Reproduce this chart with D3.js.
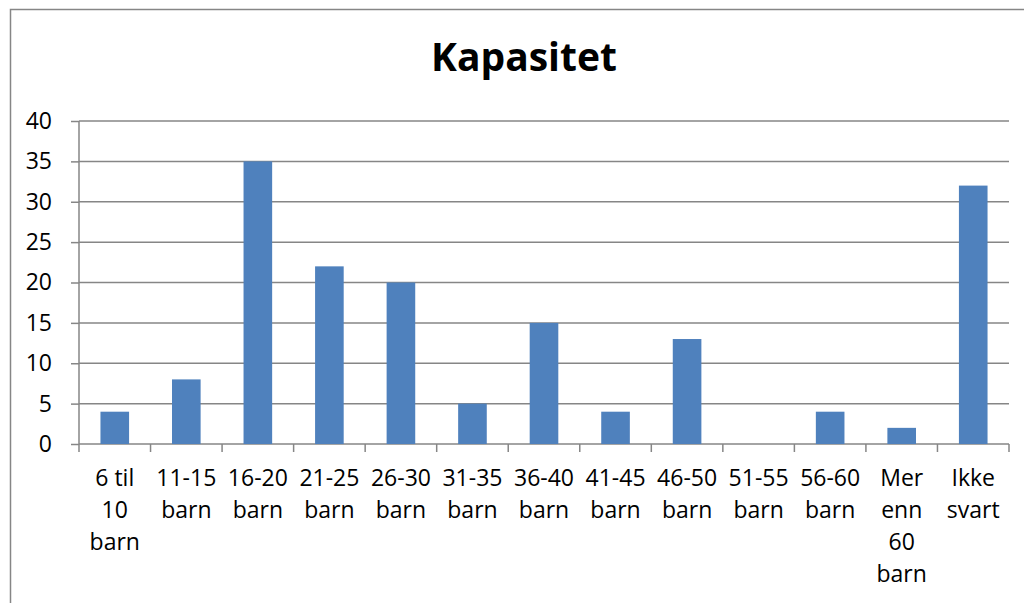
<!DOCTYPE html>
<html>
<head>
<meta charset="utf-8">
<script src="https://cdn.jsdelivr.net/npm/d3@7"></script>
<style>
  body { margin: 0; background: #fff; }
  #chart { width: 1024px; height: 603px; }
</style>
</head>
<body>
<div id="chart"></div>
<script>
// data
const categories = [
  ['6 til', '10', 'barn'], ['11-15', 'barn'], ['16-20', 'barn'], ['21-25', 'barn'],
  ['26-30', 'barn'], ['31-35', 'barn'], ['36-40', 'barn'], ['41-45', 'barn'],
  ['46-50', 'barn'], ['51-55', 'barn'], ['56-60', 'barn'], ['Mer', 'enn', '60', 'barn'],
  ['Ikke', 'svart']
];
const values = [4, 8, 35, 22, 20, 5, 15, 4, 13, 0, 4, 2, 32];
const yTicks = [0, 5, 10, 15, 20, 25, 30, 35, 40];
const title = 'Kapasitet';

const width = 1024, height = 603;
const margin = { top: 121, right: 15, bottom: 159, left: 79 };
const innerW = width - margin.left - margin.right;
const innerH = height - margin.top - margin.bottom;
const font = '"Open Sans", sans-serif';
const grey = '#868686';

const svg = d3.select('#chart')
  .append('svg')
  .attr('width', width)
  .attr('height', height);

// outer chart border
svg.append('rect')
  .attr('x', 10.5)
  .attr('y', 9.5)
  .attr('width', 1100)
  .attr('height', 700)
  .attr('fill', 'none')
  .attr('stroke', grey)
  .attr('stroke-width', 1.5);

svg.append('text')
  .attr('x', 524)
  .attr('y', 71)
  .attr('text-anchor', 'middle')
  .attr('font-family', font)
  .attr('font-weight', 'bold')
  .attr('font-size', '39px')
  .attr('fill', '#000')
  .text(title);

const g = svg.append('g')
  .attr('transform', `translate(${margin.left},${margin.top})`);

const x = d3.scaleBand()
  .domain(d3.range(categories.length))
  .range([0, innerW])
  .paddingInner(0.6)
  .paddingOuter(0.3);

const y = d3.scaleLinear()
  .domain([0, 40])
  .range([innerH, 0]);

// gridlines + y axis
const yAxis = g.append('g')
  .call(d3.axisLeft(y).tickValues(yTicks).tickSize(8).tickPadding(8));
yAxis.select('.domain').remove();
yAxis.selectAll('.tick line').attr('stroke', grey).attr('stroke-width', 1.5);
yAxis.selectAll('.tick text')
  .attr('font-family', font)
  .attr('font-size', '23px')
  .attr('fill', '#000')
  .attr('x', -27);

g.append('g')
  .selectAll('line')
  .data(yTicks)
  .join('line')
  .attr('x1', 0)
  .attr('x2', innerW)
  .attr('y1', d => y(d))
  .attr('y2', d => y(d))
  .attr('stroke', grey)
  .attr('stroke-width', 1.5);

// y axis line
g.append('line')
  .attr('x1', 0).attr('x2', 0)
  .attr('y1', 0).attr('y2', innerH)
  .attr('stroke', grey)
  .attr('stroke-width', 1.5);

// bars
g.selectAll('.bar')
  .data(values)
  .join('rect')
  .attr('class', 'bar')
  .attr('x', (d, i) => x(i))
  .attr('y', d => y(d))
  .attr('width', x.bandwidth())
  .attr('height', d => innerH - y(d))
  .attr('fill', '#4F81BD');

// x axis ticks at category boundaries
const xTicks = d3.range(categories.length + 1).map(i => i * innerW / categories.length);
g.append('g')
  .selectAll('line')
  .data(xTicks)
  .join('line')
  .attr('x1', d => d).attr('x2', d => d)
  .attr('y1', innerH).attr('y2', innerH + 8)
  .attr('stroke', grey)
  .attr('stroke-width', 1.5);

// category labels
const labels = g.append('g')
  .selectAll('text')
  .data(categories)
  .join('text')
  .attr('text-anchor', 'middle')
  .attr('font-family', font)
  .attr('font-size', '23px')
  .attr('fill', '#000')
  .attr('transform', (d, i) => `translate(${x(i) + x.bandwidth() / 2},${innerH + 42})`);

labels.selectAll('tspan')
  .data(d => d)
  .join('tspan')
  .attr('x', 0)
  .attr('y', (d, i) => i * 32)
  .text(d => d);
</script>
</body>
</html>
